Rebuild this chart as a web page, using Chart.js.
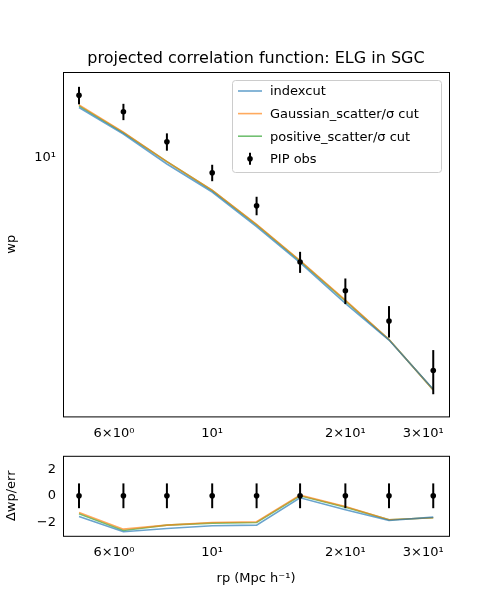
<!DOCTYPE html>
<html lang="en">
<head>
<meta charset="UTF-8">
<title>projected correlation function</title>
<script src="https://cdn.jsdelivr.net/npm/chart.js"></script>
<style>
  body { margin: 0; background: #fff; font-family: "DejaVu Sans", sans-serif; }
  #top { position: absolute; left: 0; top: 0; }
  #bot { position: absolute; left: 0; top: 445px; }
</style>
</head>
<body>
<canvas id="top" width="500" height="445"></canvas>
<canvas id="bot" width="500" height="155"></canvas>
<script>
// data
const rp = [5.0, 6.3, 7.9, 10.0, 12.6, 15.8, 20.0, 25.1, 31.6];
const wpObs = [15.2, 13.6, 11.1, 9.0, 7.2, 4.92, 4.05, 3.3, 2.36];
const wpErr = [0.9, 0.75, 0.65, 0.5, 0.45, 0.35, 0.35, 0.35, 0.35];
const wpIndexcut = [14.0, 11.7, 9.55, 7.9, 6.25, 4.9, 3.72, 2.9, 2.08];
const wpGaussian = [14.25, 11.85, 9.7, 8.0, 6.35, 4.97, 3.8, 2.91, 2.07];
const wpPositive = [14.15, 11.8, 9.7, 7.98, 6.32, 4.95, 3.78, 2.91, 2.07];
const dIndexcut = [-1.55, -2.7, -2.45, -2.25, -2.2, -0.15, -1.05, -1.85, -1.6];
const dGaussian = [-1.25, -2.5, -2.2, -2.0, -1.95, 0.05, -0.8, -1.8, -1.65];
const dPositive = [-1.35, -2.6, -2.2, -2.05, -2.0, 0.0, -0.85, -1.8, -1.65];
const dErr = [0.93, 0.93, 0.93, 0.93, 0.93, 0.93, 0.93, 0.93, 0.93];
const xTicks = [5, 6, 7, 8, 9, 10, 20, 30];
const xLabels = {6: '6×10⁰', 10: '10¹', 20: '2×10¹', 30: '3×10¹'};
const yTicks = [2, 3, 4, 5, 6, 7, 8, 9, 10];

const FONT = '"DejaVu Sans", sans-serif';
Chart.defaults.font.family = FONT;
Chart.defaults.font.size = 13;
Chart.defaults.color = '#000';
Chart.defaults.animation = false;

const BLUE = '#1f77b4', ORANGE = '#ff7f0e', GREEN = '#2ca02c';
function line(data, color) {
  return { type: 'line', data: data, borderColor: color + 'aa', borderWidth: 1.6,
           pointRadius: 0, fill: false, tension: 0 };
}
function pts(xs, ys) { return xs.map((x, i) => ({ x: x, y: ys[i] })); }

// error bars + frame
const errPlugin = {
  id: 'err',
  afterDatasetsDraw(chart, args, opts) {
    const ctx = chart.ctx, xs = chart.scales.x, ys = chart.scales.y;
    ctx.save();
    ctx.strokeStyle = '#000'; ctx.fillStyle = '#000'; ctx.lineWidth = 2;
    opts.ys.forEach((y, i) => {
      const px = xs.getPixelForValue(rp[i]);
      ctx.beginPath();
      ctx.moveTo(px, ys.getPixelForValue(y - opts.err[i]));
      ctx.lineTo(px, ys.getPixelForValue(y + opts.err[i]));
      ctx.stroke();
      ctx.beginPath();
      ctx.arc(px, ys.getPixelForValue(y), 2.8, 0, Math.PI * 2);
      ctx.fill();
    });
    const a = chart.chartArea;
    ctx.lineWidth = 1;
    ctx.strokeRect(a.left + 0.5, a.top + 0.5, a.right - a.left, a.bottom - a.top);
    ctx.restore();
  }
};

const legendPlugin = {
  id: 'box',
  afterDraw(chart) {
    const ctx = chart.ctx, a = chart.chartArea;
    ctx.save();
    ctx.fillStyle = '#000';
    ctx.font = '16px ' + FONT; ctx.textAlign = 'center'; ctx.textBaseline = 'middle';
    ctx.fillText('projected correlation function: ELG in SGC', (a.left + a.right) / 2, 59);
    ctx.textAlign = 'left';
    ctx.fillStyle = 'rgba(255,255,255,0.85)';
    ctx.strokeStyle = '#ccc'; ctx.lineWidth = 1;
    ctx.beginPath(); ctx.roundRect(232.5, 80.5, 209, 92, 3); ctx.fill(); ctx.stroke();
    const items = [['indexcut', BLUE], ['Gaussian_scatter/σ cut', ORANGE],
                   ['positive_scatter/σ cut', GREEN], ['PIP obs', null]];
    ctx.font = '13px ' + FONT;
    items.forEach((it, i) => {
      const y = 91 + i * 22.6;
      if (it[1]) {
        ctx.strokeStyle = it[1] + 'aa'; ctx.lineWidth = 1.6;
        ctx.beginPath(); ctx.moveTo(238, y); ctx.lineTo(262, y); ctx.stroke();
      } else {
        ctx.strokeStyle = '#000'; ctx.lineWidth = 2;
        ctx.beginPath(); ctx.moveTo(250, y - 6); ctx.lineTo(250, y + 6); ctx.stroke();
        ctx.fillStyle = '#000';
        ctx.beginPath(); ctx.arc(250, y, 2.8, 0, Math.PI * 2); ctx.fill();
      }
      ctx.fillStyle = '#000';
      ctx.fillText(it[0], 270, y + 1);
    });
    ctx.restore();
  }
};

function xScale(showTitle) {
  return {
    type: 'logarithmic', min: 4.6, max: 34.3,
    afterBuildTicks: s => { s.ticks = xTicks.map(v => ({ value: v })); },
    ticks: { autoSkip: false, maxRotation: 0, padding: 4, callback: v => xLabels[v] || '' },
    grid: { display: false, drawTicks: true, tickLength: 5, color: '#000' },
    border: { display: false },
    title: { display: showTitle, text: 'rp (Mpc h⁻¹)', font: { size: 13 }, padding: { top: 6 } }
  };
}
function fixWidth(s) { s.width = 63; }

new Chart(document.getElementById('top'), {
  type: 'scatter',
  data: { datasets: [
    line(pts(rp, wpIndexcut), BLUE),
    line(pts(rp, wpGaussian), ORANGE),
    line(pts(rp, wpPositive), GREEN)
  ] },
  options: {
    responsive: false,
    layout: { padding: { top: 72, right: 51, bottom: 0 } },
    scales: {
      x: xScale(false),
      y: {
        type: 'logarithmic', min: 1.73, max: 17.8,
        afterBuildTicks: s => { s.ticks = yTicks.map(v => ({ value: v })); },
        afterFit: fixWidth,
        ticks: { autoSkip: false, callback: v => v === 10 ? '10¹' : '' },
        grid: { display: false, drawTicks: true, tickLength: 4, color: '#000' },
        border: { display: false },
        title: { display: true, text: 'wp', font: { size: 13 } }
      }
    },
    plugins: {
      legend: { display: false },
      tooltip: { enabled: false },
      err: { ys: wpObs, err: wpErr }
    }
  },
  plugins: [errPlugin, legendPlugin]
});

new Chart(document.getElementById('bot'), {
  type: 'scatter',
  data: { datasets: [
    line(pts(rp, dIndexcut), BLUE),
    line(pts(rp, dGaussian), ORANGE),
    line(pts(rp, dPositive), GREEN)
  ] },
  options: {
    responsive: false,
    layout: { padding: { top: 3, right: 51, bottom: 10 } },
    scales: {
      x: xScale(true),
      y: {
        min: -3, max: 3,
        afterBuildTicks: s => { s.ticks = [-2, 0, 2].map(v => ({ value: v })); },
        afterFit: fixWidth,
        ticks: { callback: v => String(v).replace('-', '−') },
        grid: { display: false, drawTicks: true, tickLength: 4, color: '#000' },
        border: { display: false },
        title: { display: true, text: 'Δwp/err', font: { size: 13 } }
      }
    },
    plugins: {
      legend: { display: false },
      tooltip: { enabled: false },
      err: { ys: rp.map(() => 0), err: dErr }
    }
  },
  plugins: [errPlugin]
});
</script>
</body>
</html>
